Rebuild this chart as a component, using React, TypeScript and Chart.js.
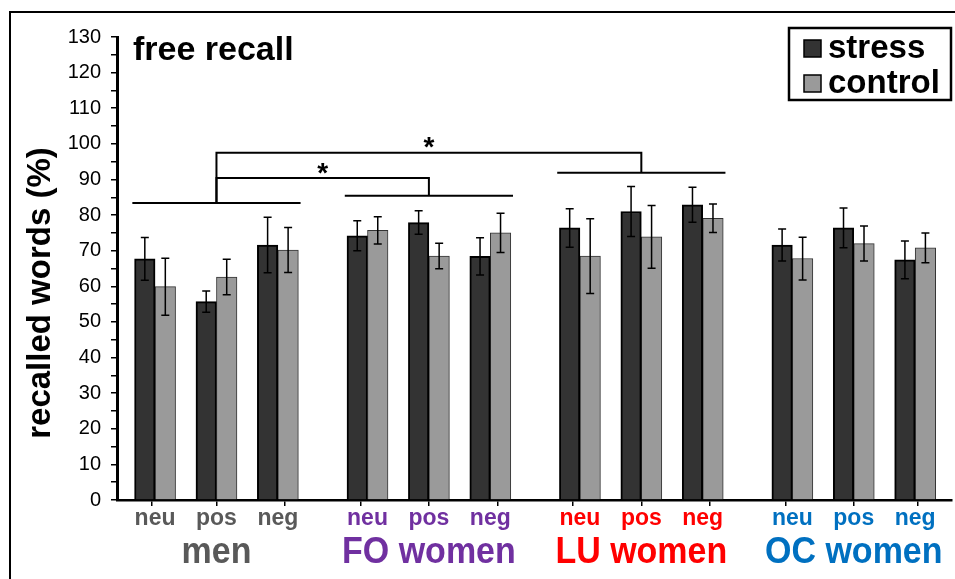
import React, { useEffect, useRef } from 'react';
import { Chart, registerables } from 'chart.js';

Chart.register(...registerables);

// ---------- data ----------
const groups = ['men', 'FO women', 'LU women', 'OC women'];
const conditions = ['neu', 'pos', 'neg'];
const seriesNames = ['stress', 'control'];

const stressMeans = [67.7, 55.7, 71.6, 74.2, 77.9, 68.4, 76.4, 81.0, 82.9, 71.6, 76.4, 67.4];
const stressErr = [6.0, 3.0, 7.8, 4.2, 3.3, 5.2, 5.4, 7.0, 4.9, 4.5, 5.6, 5.3];
const controlMeans = [59.9, 62.6, 70.2, 75.7, 68.5, 75.0, 68.5, 73.9, 79.1, 67.8, 72.0, 70.8];
const controlErr = [8.0, 5.0, 6.3, 3.8, 3.6, 5.5, 10.5, 8.8, 4.0, 6.0, 4.9, 4.2];

const yMin = 0;
const yMax = 130;
const yLabelStep = 10;
const yMinorStep = 5;

// group-level significance lines and brackets (values in % units)
const sigLineGroups = [0, 1, 2];
const sigLineLevels = [83.4, 85.4, 91.9];
const bracketFrom = [0, 0];
const bracketTo = [1, 2];
const bracketLevels = [90.4, 97.5];
const bracketLabels = ['*', '*'];

const chartTitle = 'free recall';
const yTitle = 'recalled words (%)';

// ---------- layout / style ----------
const FONT = '"Liberation Sans", Arial, Helvetica, sans-serif';
const GROUP_STEP = 3.46;
const X_MIN = 0.38;
const X_MAX = 13.98;
const groupColors = ['#595959', '#7030a0', '#ff0000', '#0070c0'];
const seriesFill = ['#333333', '#9a9a9a'];
const seriesBorder = ['#000000', '#333333'];
const seriesBorderWidth = [2, 1];

const xPos = (g: number, c: number) => 1 + g * GROUP_STEP + c;
const allPositions: number[] = [];
groups.forEach((_, g) => conditions.forEach((__, c) => allPositions.push(xPos(g, c))));

const tickPositions: number[] = (() => {
  const t: number[] = [X_MIN];
  for (let i = 0; i < allPositions.length - 1; i++) t.push((allPositions[i] + allPositions[i + 1]) / 2);
  t.push(X_MAX);
  return t;
})();

const errorBarPlugin = {
  id: 'errorBars',
  afterDatasetsDraw(chart: any) {
    const ctx = chart.ctx;
    const y = chart.scales.y;
    chart.data.datasets.forEach((ds: any, d: number) => {
      const meta = chart.getDatasetMeta(d);
      meta.data.forEach((el: any, i: number) => {
        const m = ds.data[i].y;
        const e = ds.errors[i];
        const x = el.x;
        const yt = y.getPixelForValue(m + e);
        const yb = y.getPixelForValue(m - e);
        ctx.save();
        ctx.strokeStyle = '#000';
        ctx.lineWidth = 1.5;
        ctx.beginPath();
        ctx.moveTo(x, yt);
        ctx.lineTo(x, yb);
        ctx.moveTo(x - 4, yt);
        ctx.lineTo(x + 4, yt);
        ctx.moveTo(x - 4, yb);
        ctx.lineTo(x + 4, yb);
        ctx.stroke();
        ctx.restore();
      });
    });
  },
};

const drawStretched = (ctx: any, text: string, x: number, y: number, sy: number) => {
  ctx.save();
  ctx.translate(x, y);
  ctx.scale(1, sy);
  ctx.fillText(text, 0, 0);
  ctx.restore();
};

const decorPlugin = {
  id: 'decor',
  afterDraw(chart: any) {
    const ctx = chart.ctx;
    const xs = chart.scales.x;
    const ys = chart.scales.y;
    ctx.save();

    // outer frame
    ctx.strokeStyle = '#000';
    ctx.lineWidth = 2;
    ctx.strokeRect(10, 12, 1200, 1200);

    // title
    ctx.fillStyle = '#000';
    ctx.font = `bold 34px ${FONT}`;
    ctx.textAlign = 'left';
    ctx.textBaseline = 'alphabetic';
    ctx.fillText(chartTitle, 133, 60);

    // y title
    ctx.save();
    ctx.translate(50, 293);
    ctx.rotate(-Math.PI / 2);
    ctx.textAlign = 'center';
    ctx.font = `bold 33px ${FONT}`;
    ctx.fillText(yTitle, 0, 0);
    ctx.restore();

    // legend
    ctx.lineWidth = 2.5;
    ctx.strokeStyle = '#000';
    ctx.strokeRect(789, 28, 162, 72);
    chart.data.datasets.forEach((ds: any, i: number) => {
      const top = 40 + i * 35;
      ctx.fillStyle = ds.backgroundColor;
      ctx.fillRect(804, top, 17, 17);
      ctx.lineWidth = 1.5;
      ctx.strokeStyle = '#000';
      ctx.strokeRect(804, top, 17, 17);
      ctx.fillStyle = '#000';
      ctx.font = `bold 33px ${FONT}`;
      ctx.textAlign = 'left';
      ctx.fillText(ds.label, 828, top + 18);
    });

    // category labels
    groups.forEach((gName, g) => {
      ctx.fillStyle = groupColors[g];
      ctx.textAlign = 'center';
      ctx.font = `bold 23px ${FONT}`;
      conditions.forEach((c, ci) => {
        drawStretched(ctx, c, xs.getPixelForValue(xPos(g, ci)), 525, 1.08);
      });
      ctx.font = `bold 34px ${FONT}`;
      drawStretched(ctx, gName, xs.getPixelForValue(xPos(g, 1)), 563, 1.1);
    });

    // significance lines
    ctx.strokeStyle = '#000';
    ctx.lineWidth = 2;
    const lineLevelOf: Record<number, number> = {};
    sigLineGroups.forEach((g, i) => {
      lineLevelOf[g] = sigLineLevels[i];
      const yy = ys.getPixelForValue(sigLineLevels[i]);
      ctx.beginPath();
      ctx.moveTo(xs.getPixelForValue(xPos(g, 0) - 0.37), yy);
      ctx.lineTo(xs.getPixelForValue(xPos(g, 2) + 0.37), yy);
      ctx.stroke();
    });
    bracketFrom.forEach((gf, i) => {
      const gt = bracketTo[i];
      const x1 = xs.getPixelForValue(xPos(gf, 1));
      const x2 = xs.getPixelForValue(xPos(gt, 1));
      const yTop = ys.getPixelForValue(bracketLevels[i]);
      ctx.beginPath();
      ctx.moveTo(x1, ys.getPixelForValue(lineLevelOf[gf]));
      ctx.lineTo(x1, yTop);
      ctx.lineTo(x2, yTop);
      ctx.lineTo(x2, ys.getPixelForValue(lineLevelOf[gt]));
      ctx.stroke();
      ctx.font = `bold 28px ${FONT}`;
      ctx.textAlign = 'center';
      ctx.fillStyle = '#000';
      const m = ctx.measureText(bracketLabels[i]);
      const cy = yTop - 10;
      const base = cy + (m.actualBoundingBoxAscent - m.actualBoundingBoxDescent) / 2;
      ctx.fillText(bracketLabels[i], (x1 + x2) / 2, base);
    });

    ctx.restore();
  },
};

export default function App() {
  const ref = useRef<HTMLCanvasElement | null>(null);
  useEffect(() => {
    document.body.style.margin = '0';
    document.body.style.overflow = 'hidden';
    const canvas = ref.current;
    if (!canvas) return;
    const chart = new Chart(canvas, {
      type: 'bar',
      data: {
        datasets: [
          {
            label: seriesNames[0],
            data: stressMeans.map((v, i) => ({ x: allPositions[i], y: v })),
            backgroundColor: seriesFill[0],
            borderColor: seriesBorder[0],
            borderWidth: seriesBorderWidth[0],
            barThickness: 20.5,
            errors: stressErr,
          } as any,
          {
            label: seriesNames[1],
            data: controlMeans.map((v, i) => ({ x: allPositions[i], y: v })),
            backgroundColor: seriesFill[1],
            borderColor: seriesBorder[1],
            borderWidth: seriesBorderWidth[1],
            barThickness: 20.5,
            errors: controlErr,
          } as any,
        ],
      },
      options: {
        animation: false,
        responsive: false,
        devicePixelRatio: 1,
        layout: { padding: { top: 37, left: 0, right: 3, bottom: 0 } },
        plugins: { legend: { display: false }, tooltip: { enabled: false } },
        scales: {
          x: {
            type: 'linear',
            min: X_MIN,
            max: X_MAX,
            offset: false,
            afterBuildTicks: (s: any) => {
              s.ticks = tickPositions.map((v) => ({ value: v }));
            },
            afterFit: (s: any) => {
              s.height = 79;
            },
            ticks: { display: false },
            grid: { drawOnChartArea: false, drawTicks: true, tickLength: 6, color: '#000', lineWidth: 1.5 },
            border: { display: true, color: '#000', width: 2.5 },
          },
          y: {
            min: yMin,
            max: yMax,
            afterFit: (s: any) => {
              s.width = 117;
            },
            ticks: {
              stepSize: yMinorStep,
              autoSkip: false,
              color: '#000',
              padding: 10,
              font: { family: FONT, size: 20 },
              callback: (v: any) => (Number(v) % yLabelStep === 0 ? String(v) : ''),
            },
            grid: { drawOnChartArea: false, drawTicks: true, tickLength: 6, color: '#000', lineWidth: 1.5 },
            border: { display: true, color: '#000', width: 3 },
          },
        },
      } as any,
      plugins: [errorBarPlugin, decorPlugin],
    });
    return () => chart.destroy();
  }, []);
  return (
    <div style={{ width: 955, height: 579 }}>
      <canvas ref={ref} width={955} height={579} style={{ display: 'block' }} />
    </div>
  );
}
